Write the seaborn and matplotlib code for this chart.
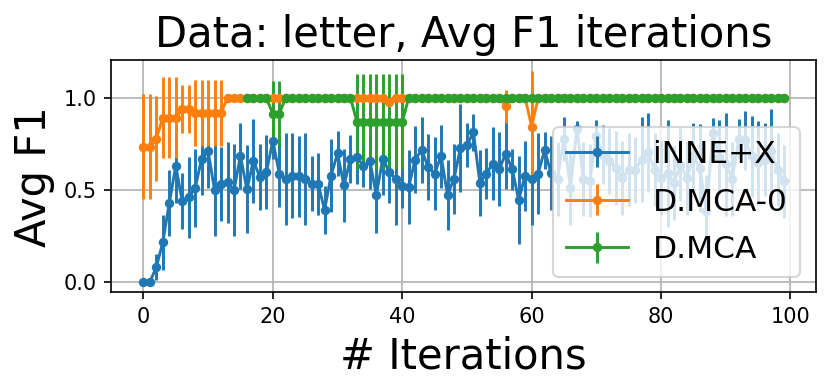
import numpy as np
import pandas as pd
import matplotlib
matplotlib.use("Agg")
import matplotlib.pyplot as plt
import seaborn as sns

iters = list(range(100))

innex_mean = [0.0, 0.0, 0.08, 0.215, 0.43, 0.63, 0.44, 0.46, 0.51, 0.67,
              0.71, 0.50, 0.533, 0.542, 0.50, 0.685, 0.503, 0.658, 0.57, 0.596,
              0.767, 0.589, 0.56, 0.578, 0.574, 0.561, 0.534, 0.532, 0.392, 0.578,
              0.698, 0.525, 0.669, 0.68, 0.628, 0.656, 0.474, 0.67, 0.597, 0.561,
              0.519, 0.516, 0.665, 0.716, 0.625, 0.589, 0.683, 0.474, 0.56, 0.729,
              0.742, 0.814, 0.538, 0.589, 0.643, 0.614, 0.696, 0.611, 0.446, 0.578,
              0.56, 0.589, 0.716, 0.592, 0.56, 0.778, 0.51, 0.83, 0.56, 0.55,
              0.792, 0.692, 0.656, 0.62, 0.565, 0.61, 0.61, 0.665, 0.705, 0.61,
              0.565, 0.59, 0.538, 0.638, 0.565, 0.683, 0.62, 0.383, 0.81, 0.68,
              0.64, 0.56, 0.778, 0.77, 0.683, 0.647, 0.665, 0.71, 0.61, 0.546]
innex_err = [0.0, 0.0, 0.07, 0.15, 0.18, 0.2, 0.15, 0.22, 0.21, 0.2,
             0.2, 0.25, 0.2, 0.22, 0.25, 0.18, 0.24, 0.23, 0.18, 0.2,
             0.1, 0.18, 0.25, 0.23, 0.22, 0.25, 0.15, 0.17, 0.13, 0.2,
             0.12, 0.2, 0.13, 0.15, 0.11, 0.15, 0.21, 0.2, 0.17, 0.25,
             0.12, 0.2, 0.18, 0.18, 0.18, 0.2, 0.17, 0.19, 0.19, 0.24,
             0.12, 0.1, 0.18, 0.14, 0.2, 0.2, 0.19, 0.11, 0.24, 0.19,
             0.25, 0.22, 0.1, 0.2, 0.2, 0.12, 0.2, 0.045, 0.2, 0.2,
             0.09, 0.16, 0.18, 0.2, 0.2, 0.2, 0.18, 0.23, 0.215, 0.2,
             0.2, 0.29, 0.2, 0.2, 0.2, 0.18, 0.24, 0.2, 0.08, 0.2,
             0.28, 0.2, 0.11, 0.16, 0.22, 0.23, 0.2, 0.23, 0.2, 0.2]

dmca0_mean = [0.734, 0.734, 0.778, 0.893, 0.893, 0.893, 0.938, 0.938, 0.92, 0.92,
              0.92, 0.92, 0.92] + [1.0] * 20 + [1.0] * 5 + [0.978] + [1.0] * 17 + \
             [0.955] + [1.0] * 3 + [0.844] + [1.0] * 39
dmca0_err = [0.285, 0.285, 0.23, 0.22, 0.22, 0.22, 0.13, 0.13, 0.18, 0.18,
             0.18, 0.18, 0.18] + [0.0] * 20 + [0.0] * 5 + [0.02] + [0.0] * 17 + \
            [0.09] + [0.0] * 3 + [0.305] + [0.0] * 39

dmca_iters = list(range(16, 100))
dmca_mean = [1.0] * 4 + [0.915, 0.915] + [1.0] * 11 + [0.871] * 8 + [1.0] * 59
dmca_err = [0.0] * 4 + [0.175, 0.175] + [0.0] * 11 + [0.26] * 8 + [0.0] * 59

palette = sns.color_palette("tab10")

fig = plt.figure(figsize=(831 / 150, 392 / 150), dpi=150)
ax = fig.add_axes([0.134, 0.254, 0.848, 0.593])

series = [
    ("iNNE+X", iters, innex_mean, innex_err, palette[0]),
    ("D.MCA-0", iters, dmca0_mean, dmca0_err, palette[1]),
    ("D.MCA", dmca_iters, dmca_mean, dmca_err, palette[2]),
]
for label, xs, ys, es, col in series:
    ax.errorbar(xs, ys, yerr=es, color=col, marker="o", markersize=3.5,
                linewidth=1.4, elinewidth=1.4, label=label)

ax.grid(True, color="#b0b0b0", linewidth=0.8)
ax.set_axisbelow(True)
ax.set_xticks([0, 20, 40, 60, 80, 100])
ax.set_yticks([0.0, 0.5, 1.0])
ax.tick_params(labelsize=10)
ax.set_title("Data: letter, Avg F1 iterations", fontsize=20)
ax.set_xlabel("# Iterations", fontsize=20)
ax.set_ylabel("Avg F1", fontsize=20)
ax.legend(loc="lower right", fontsize=15, labelspacing=0.6)

fig.savefig("out.png", dpi=150)
